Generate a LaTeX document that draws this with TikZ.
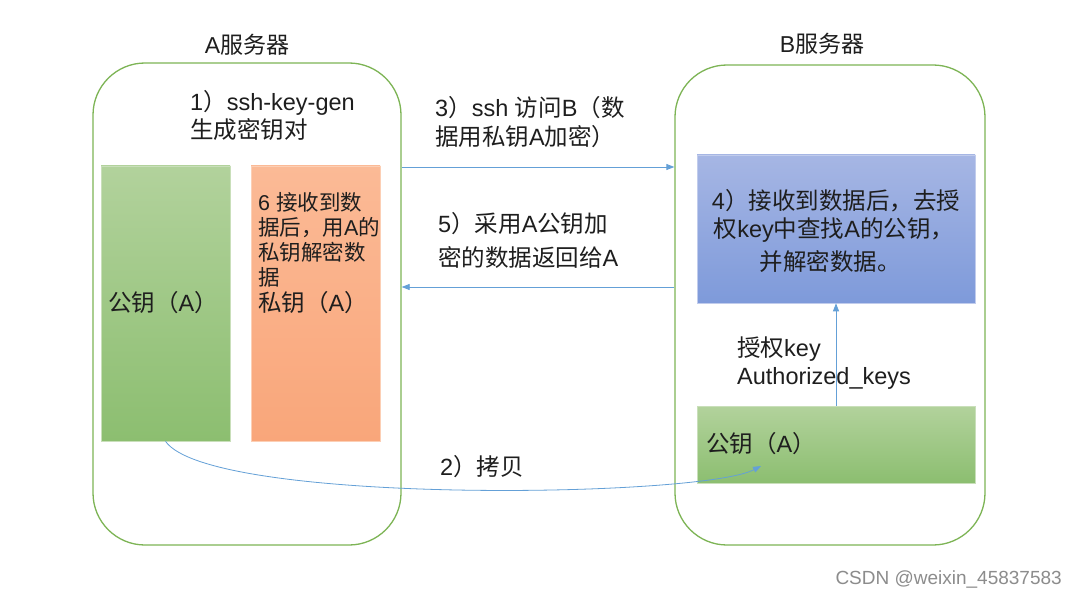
\documentclass[tikz,border=0pt]{standalone}
\usepackage{fontspec}
\setmainfont{Liberation Sans}
\newfontfamily\cjk{Noto Sans CJK SC}
\newcommand\cj[1]{{\cjk #1}}
\usetikzlibrary{arrows.meta}
\definecolor{srvgreen}{RGB}{125,180,85}
\definecolor{gtop}{RGB}{178,210,156}
\definecolor{gbot}{RGB}{140,190,112}
\definecolor{otop}{RGB}{251,186,150}
\definecolor{obot}{RGB}{249,166,122}
\definecolor{btop}{RGB}{166,182,228}
\definecolor{bbot}{RGB}{126,154,218}
\definecolor{arrblue}{RGB}{100,160,215}
\definecolor{txt}{RGB}{30,30,30}
\tikzset{
  srv/.style={draw=srvgreen, line width=1.3pt, rounded corners=52pt, inner sep=0pt},
  greenbox/.style={top color=gtop, bottom color=gbot, draw=gtop!70!white, line width=0.6pt, inner sep=0pt},
  orangebox/.style={top color=otop, bottom color=obot, draw=otop!70!white, line width=0.6pt, inner sep=0pt},
  bluebox/.style={top color=btop, bottom color=bbot, draw=btop!70!white, line width=0.6pt, inner sep=0pt},
  lbl/.style={text=txt, inner sep=0pt, anchor=west, font=\fontsize{23.5}{28}\selectfont},
  ttl/.style={text=txt, inner sep=0pt, font=\fontsize{23}{26}\selectfont},
  arr/.style={draw=arrblue, line width=0.8pt, -{Triangle[length=8pt,width=6pt]}},
}
\begin{document}
\begin{tikzpicture}[x=1pt,y=-1pt]
\useasboundingbox[fill=white] (0,0) rectangle (1077,599);
% servers
\node[srv, minimum width=308pt, minimum height=482pt] (A) at (247,304) {};
\node[srv, minimum width=310pt, minimum height=480pt] (B) at (830,305) {};
\node[ttl] (Atitle) at (247,45) {A\cj{服务器}};
\node[ttl] (Btitle) at (822,44) {B\cj{服务器}};
% A contents
\node[lbl] (gen1) at (190,103) {1\cj{）}ssh-key-gen};
\node[lbl] (gen2) at (190,130) {\cj{生成密钥对}};
\node[greenbox, minimum width=129pt, minimum height=275pt] (pubA) at (165.5,303.5) {};
\node[orangebox, minimum width=129pt, minimum height=275pt] (privA) at (315.5,303.5) {};
\node[lbl] (pubAtxt) at (108,303) {\cj{公钥（}A\cj{）}};
\node[lbl, font=\fontsize{21.5}{25}\selectfont, align=left, anchor=north west] (dec) at (258,192) {6 \cj{接收到数}\\\cj{据后，用}A\cj{的}\\\cj{私钥解密数}\\\cj{据}};
\node[lbl] (privAtxt) at (258,303) {\cj{私钥（}A\cj{）}};
% B contents
\node[bluebox, minimum width=278pt, minimum height=148pt] (blue) at (836,229) {};
\node[lbl, anchor=center] (b1) at (836,201) {4\cj{）接收到数据后，去授}};
\node[lbl, anchor=center] (b2) at (834,230) {\cj{权}key\cj{中查找}A\cj{的公钥，}};
\node[lbl, anchor=center] (b3) at (830,262) {\cj{并解密数据。}};
\node[greenbox, minimum width=278pt, minimum height=77pt] (pubB) at (836,444.5) {};
\node[lbl] (pubBtxt) at (706,444) {\cj{公钥（}A\cj{）}};
\node[lbl] (auth1) at (737,349) {\cj{授权}key};
\node[lbl] (auth2) at (737,378) {Authorized\_keys};
% middle texts
\node[lbl] (t3a) at (435,108) {3\cj{）}ssh \cj{访问}B\cj{（数}};
\node[lbl] (t3b) at (435,137) {\cj{据用私钥}A\cj{加密）}};
\node[lbl] (t5a) at (438,224) {5\cj{）采用}A\cj{公钥加}};
\node[lbl] (t5b) at (438,257) {\cj{密的数据返回给}A};
\node[lbl] (t2) at (440,467) {2\cj{）拷贝}};
% connectors
\coordinate (copyend) at (761,466);
\draw[arr] (A.east |- 0,167) -- (B.west |- 0,167);
\draw[arr] (B.west |- 0,287) -- (A.east |- 0,287);
\draw[arr] (pubB.north) -- (blue.south);
\draw[arr] (pubA.south) .. controls (210,505) and (700,498) .. (copyend);
% watermark
\node[inner sep=0pt, anchor=east, text=black!45, font=\fontsize{19}{21}\selectfont] (wm) at (1062,580) {CSDN @weixin\_45837583};
\end{tikzpicture}
\end{document}
